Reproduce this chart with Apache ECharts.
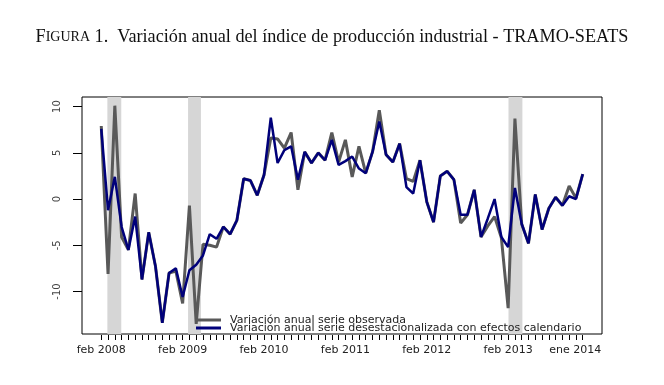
<!DOCTYPE html>
<html><head><meta charset="utf-8">
<script src="https://cdn.jsdelivr.net/npm/echarts@6/dist/echarts.min.js"></script>
<style>html,body{margin:0;padding:0;background:#fff}#c{width:664px;height:385px}</style>
</head><body><div id="c"></div>
<script>
// month index 0 = feb 2008 ... 71 = ene 2014
const observed = [7.9,-8.1,10.1,-4.1,-5.5,0.6,-8.7,-3.6,-7.3,-13.4,-8.0,-7.8,
  -11.3,-0.7,-13.5,-4.9,-5.0,-5.2,-3.0,-3.8,-2.3,2.2,2.0,0.4,
  2.6,6.6,6.5,5.5,7.2,1.0,5.1,3.9,5.0,4.2,7.2,4.0,
  6.4,2.4,5.7,2.8,5.1,9.6,4.8,4.0,6.0,2.2,1.9,4.2,
  -0.3,-2.5,2.5,3.0,2.1,-2.6,-1.7,1.0,-4.1,-2.9,-1.9,-4.2,
  -11.8,8.7,-2.7,-4.8,0.5,-3.3,-1.0,0.2,-0.7,1.4,0.1,2.7];
const adjusted = [7.6,-1.2,2.4,-3.0,-5.5,-1.9,-8.7,-3.6,-7.3,-13.4,-8.0,-7.5,
  -10.6,-7.7,-7.1,-6.1,-3.8,-4.3,-3.0,-3.8,-2.3,2.2,2.0,0.4,
  2.6,8.8,3.9,5.3,5.7,2.1,5.1,3.9,5.0,4.2,6.4,3.7,
  4.1,4.6,3.3,2.8,5.1,8.4,4.8,4.0,6.0,1.3,0.6,4.2,
  -0.3,-2.5,2.5,3.0,2.1,-1.7,-1.7,1.0,-4.1,-2.1,0.0,-4.1,
  -5.2,1.2,-2.7,-4.8,0.5,-3.3,-1.0,0.2,-0.7,0.3,0.0,2.7];
const tickLabels = ['feb 2008','feb 2009','feb 2010','feb 2011','feb 2012','feb 2013','ene 2014'];
const tickIdx = [0,12,24,36,48,60,71];
const yTicks = [-10,-5,0,5,10];
const shaded = [[0.9,2.95],[12.8,14.7],[60.05,62.1]];
const seriesNames = ['Variación anual serie observada','Variación anual serie desestacionalizada con efectos calendario'];
const monthTicks = observed.map((v,i)=>i);

const chart = echarts.init(document.getElementById('c'), null, {renderer:'canvas'});
chart.setOption({
  animation:false,
  backgroundColor:'#fff',
  title:{
    text:'{a|F}{b|IGURA}{a| 1.  Variación anual del índice de producción industrial - TRAMO-SEATS}',
    left:'center', top:23,
    textStyle:{fontWeight:'normal', rich:{
      a:{fontFamily:'Liberation Serif', fontSize:18.2, fontWeight:'normal', color:'#111'},
      b:{fontFamily:'Liberation Serif', fontSize:14, fontWeight:'normal', color:'#111'}
    }}
  },
  grid:{left:82, right:62, top:97, bottom:51, show:true, borderColor:'#000', borderWidth:1, backgroundColor:'transparent'},
  legend:{
    data:seriesNames, orient:'vertical', left:196, top:314.5, padding:0,
    icon:'rect', itemWidth:25, itemHeight:3, itemGap:-3,
    textStyle:{fontFamily:'DejaVu Sans', fontSize:11, color:'#222', padding:[0,0,0,4], lineHeight:8},
    selectedMode:false
  },
  xAxis:{
    type:'value', min:-2.84, max:73.84, offset:1,
    splitLine:{show:false}, axisLine:{show:false, onZero:false},
    axisTick:{show:true, customValues:monthTicks, length:5, lineStyle:{color:'#000', width:1}},
    axisLabel:{customValues:tickIdx, margin:10, fontFamily:'DejaVu Sans', fontSize:11, color:'#222',
      rich:{last:{fontFamily:'DejaVu Sans', fontSize:11, color:'#222', padding:[0,15,0,0]}},
      formatter:(v)=>{
        const k = tickIdx.indexOf(Math.round(v));
        if (k < 0) return '';
        return k === tickIdx.length-1 ? '{last|'+tickLabels[k]+'}' : tickLabels[k];
      }}
  },
  yAxis:{
    type:'value', min:-14.6, max:11.04,
    splitLine:{show:false}, axisLine:{show:false, onZero:false},
    axisTick:{show:true, customValues:yTicks, length:9, lineStyle:{color:'#000', width:1}},
    axisLabel:{customValues:yTicks, rotate:90, margin:20, fontFamily:'DejaVu Sans', fontSize:10, color:'#444'}
  },
  series:[
    {name:seriesNames[0], type:'line', data:observed.map((v,i)=>[i,v]), showSymbol:false,
     lineStyle:{color:'#595959', width:3}, itemStyle:{color:'#595959'}, z:2,
     markArea:{silent:true, itemStyle:{color:'#d6d6d6'}, data:shaded.map(s=>[{xAxis:s[0]},{xAxis:s[1]}])}},
    {name:seriesNames[1], type:'line', data:adjusted.map((v,i)=>[i,v]), showSymbol:false,
     lineStyle:{color:'#00007a', width:2.5}, itemStyle:{color:'#00007a'}, z:3}
  ]
});
</script></body></html>
